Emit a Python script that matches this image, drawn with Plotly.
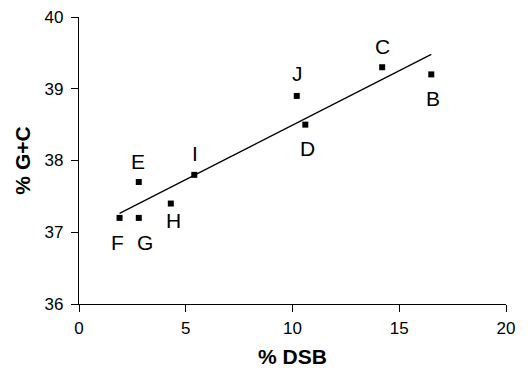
import numpy as np
import plotly.graph_objects as go

# Data
labels = ["B", "C", "D", "E", "F", "G", "H", "I", "J"]
dsb = [16.5, 14.2, 10.6, 2.8, 1.9, 2.8, 4.3, 5.4, 10.2]
gc = [39.2, 39.3, 38.5, 37.7, 37.2, 37.2, 37.4, 37.8, 38.9]

x_ticks = [0, 5, 10, 15, 20]
y_ticks = [36, 37, 38, 39, 40]

# label offsets in pixels (style)
offsets = {
    "B": (2, -24), "C": (0, 21), "D": (2, -24), "E": (-1, 21), "F": (-2, -25),
    "G": (6, -25), "H": (3, -17), "I": (1, 21), "J": (1, 22),
}

FONT = "Liberation Sans, Arial, sans-serif"

slope, intercept = np.polyfit(dsb, gc, 1)
xl = np.array([min(dsb), max(dsb)])
yl = slope * xl + intercept

fig = go.Figure()
fig.add_trace(go.Scatter(x=xl, y=yl, mode="lines",
                         line=dict(color="black", width=1.3), showlegend=False))
fig.add_trace(go.Scatter(x=dsb, y=gc, mode="markers",
                         marker=dict(symbol="square", size=6, color="black"),
                         showlegend=False))

for lab, xv, yv in zip(labels, dsb, gc):
    dx, dy = offsets[lab]
    fig.add_annotation(x=xv, y=yv, text=lab, showarrow=False,
                       xshift=dx, yshift=dy,
                       font=dict(family=FONT, size=21, color="black"))

fig.update_xaxes(range=[0, 20], tickvals=x_ticks, ticks="outside", ticklen=7,
                 tickcolor="black", tickwidth=1.3, showline=True, linecolor="black",
                 linewidth=1.3, showgrid=False, zeroline=False, automargin=False,
                 ticklabeloverflow="allow", ticklabelstandoff=1,
                 tickfont=dict(family=FONT, size=17, color="black"),
                 title=dict(text="<b>% DSB</b>", standoff=12,
                            font=dict(family=FONT, size=21, color="black")))
fig.update_yaxes(range=[36, 40], tickvals=y_ticks, ticks="outside", ticklen=7,
                 tickcolor="black", tickwidth=1.3, showline=True, linecolor="black",
                 linewidth=1.3, showgrid=False, zeroline=False, automargin=False,
                 ticklabeloverflow="allow", ticklabelstandoff=4,
                 tickfont=dict(family=FONT, size=17, color="black"),
                 title=dict(text="<b>% G+C</b>", standoff=8,
                            font=dict(family=FONT, size=21, color="black")))

fig.update_layout(width=523, height=367,
                  margin=dict(l=71, r=25, t=9, b=71),
                  plot_bgcolor="white", paper_bgcolor="white")

fig.write_html("out.html")
